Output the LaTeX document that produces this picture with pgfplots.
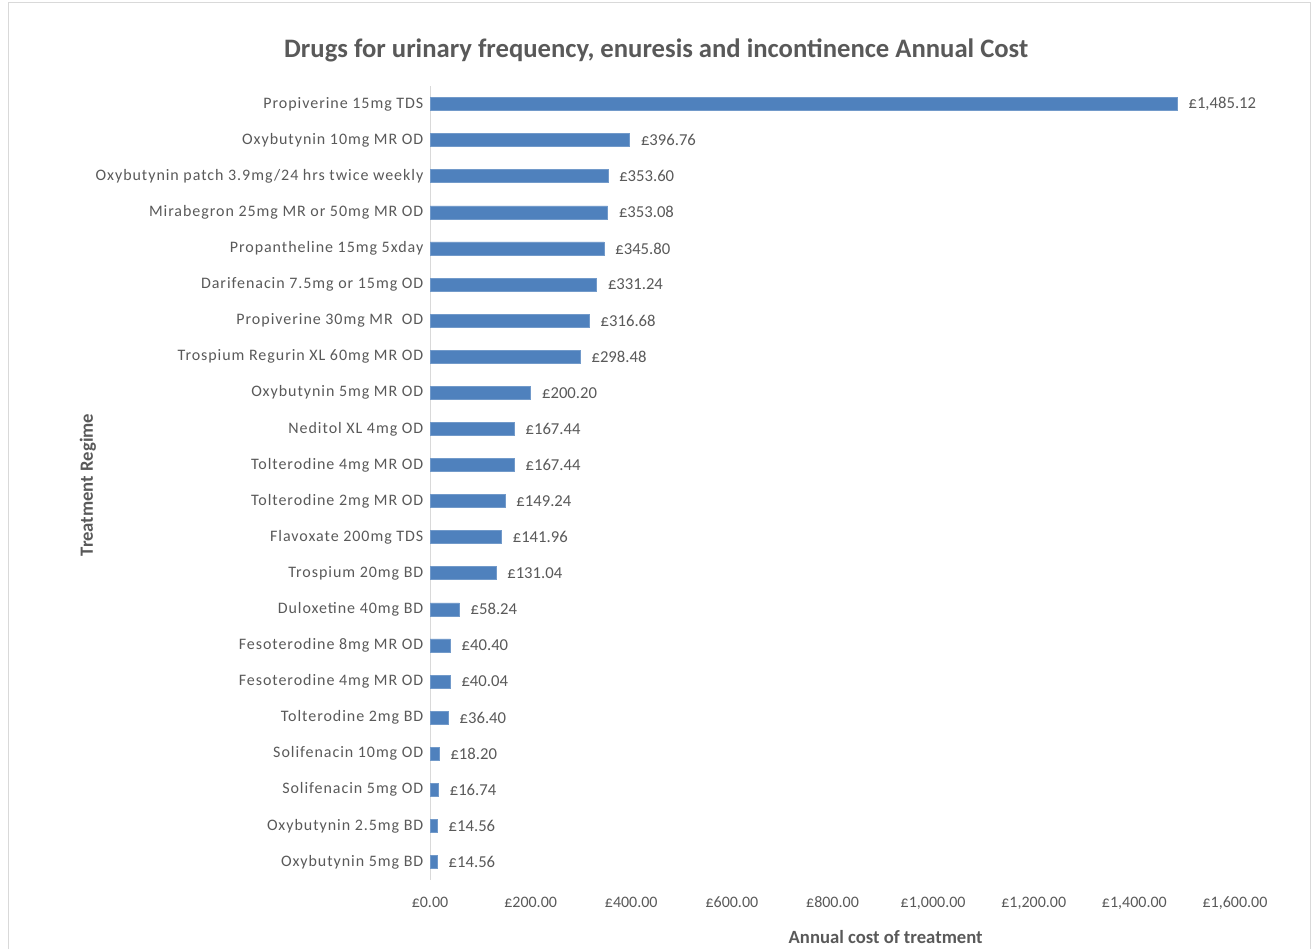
\documentclass[border=0pt]{standalone}
\usepackage{pgfplots}
\pgfplotsset{compat=1.18}
\usepackage{fontspec}
\setmainfont{Carlito}
\newfontfamily\spaced[LetterSpace=6]{Carlito}
\definecolor{txt}{HTML}{595959}
\definecolor{barc}{HTML}{4F81BD}
\definecolor{framec}{HTML}{D9D9D9}
\begin{document}
\begin{tikzpicture}
\useasboundingbox (0,0) rectangle (984pt,-711.75pt);
\draw[framec] (6pt,-711.75pt) -- (6pt,-1.5pt) -- (982.5pt,-1.5pt) -- (982.5pt,-711.75pt);
\begin{axis}[
  at={(322.5pt,-660pt)}, anchor=south west,
  scale only axis, width=603.75pt, height=595.5pt,
  xbar, bar width=0.36, bar shift=0pt,
  xmin=0, xmax=1600, ymin=-0.5, ymax=21.5, y dir=reverse,
  axis x line*=bottom, axis y line*=left,
  x axis line style={draw=none},
  y axis line style={draw=framec, -},
  major tick length=0pt,
  xtick={0,200,...,1600},
  xticklabels={£0.00,£200.00,£400.00,£600.00,£800.00,{£1,000.00},{£1,200.00},{£1,400.00},{£1,600.00}},
  ytick={0,...,21},
  yticklabels={Propiverine 15mg TDS,Oxybutynin 10mg MR OD,Oxybutynin patch 3.9mg/24 hrs twice weekly,Mirabegron 25mg MR or 50mg MR OD,Propantheline 15mg 5xday,Darifenacin 7.5mg or 15mg OD,Propiverine 30mg MR\ \ OD,Trospium Regurin XL 60mg MR OD,Oxybutynin 5mg MR OD,Neditol XL 4mg OD,Tolterodine 4mg MR OD,Tolterodine 2mg MR OD,Flavoxate 200mg TDS,Trospium 20mg BD,Duloxetine 40mg BD,Fesoterodine 8mg MR OD,Fesoterodine 4mg MR OD,Tolterodine 2mg BD,Solifenacin 10mg OD,Solifenacin 5mg OD,Oxybutynin 2.5mg BD,Oxybutynin 5mg BD},
  ticklabel style={font=\fontsize{12}{14}\selectfont, text=txt},
  yticklabel style={font=\spaced\fontsize{12}{14}\selectfont, xshift=-1.5pt},
  xticklabel style={yshift=-9pt},
  title={Drugs for urinary frequency, enuresis and incontinence Annual Cost},
  title style={at={(axis description cs:0.281,1.035)}, anchor=center, font=\bfseries\fontsize{20}{24}\selectfont, text=txt},
  xlabel={Annual cost of treatment},
  xlabel style={at={(axis description cs:0.566,-0.0718)}, anchor=center, font=\bfseries\fontsize{14}{16}\selectfont, text=txt},
  ylabel={Treatment Regime},
  ylabel style={at={(axis description cs:-0.4248,0.4975)}, anchor=center, font=\bfseries\fontsize{14}{16}\selectfont, text=txt},
  nodes near coords, point meta=explicit symbolic,
  nodes near coords style={font=\fontsize{12.5}{14}\selectfont, text=txt, anchor=west, xshift=5pt},
]
\addplot[fill=barc, draw=barc!80!white] coordinates {
(1485.12,0) [£1,485.12]
(396.76,1) [£396.76]
(353.60,2) [£353.60]
(353.08,3) [£353.08]
(345.80,4) [£345.80]
(331.24,5) [£331.24]
(316.68,6) [£316.68]
(298.48,7) [£298.48]
(200.20,8) [£200.20]
(167.44,9) [£167.44]
(167.44,10) [£167.44]
(149.24,11) [£149.24]
(141.96,12) [£141.96]
(131.04,13) [£131.04]
(58.24,14) [£58.24]
(40.40,15) [£40.40]
(40.04,16) [£40.04]
(36.40,17) [£36.40]
(18.20,18) [£18.20]
(16.74,19) [£16.74]
(14.56,20) [£14.56]
(14.56,21) [£14.56]
};
\end{axis}
\end{tikzpicture}
\end{document}
